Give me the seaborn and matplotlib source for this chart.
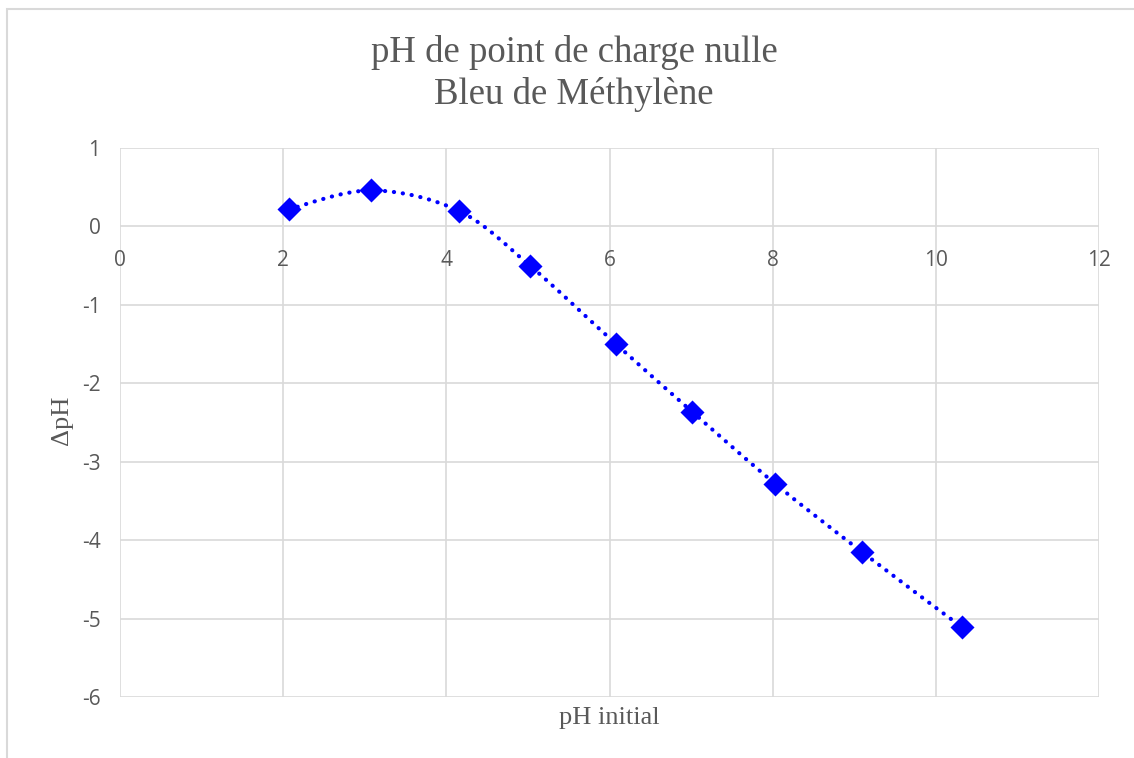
import matplotlib
matplotlib.use("Agg")
import matplotlib.pyplot as plt
from matplotlib.path import Path
from matplotlib.patches import PathPatch, Rectangle
import seaborn as sns
import pandas as pd
import numpy as np

# data
ph_initial = [2.07, 3.08, 4.15, 5.03, 6.08, 7.01, 8.03, 9.10, 10.32]
delta_ph = [0.22, 0.46, 0.20, -0.505, -1.50, -2.36, -3.28, -4.155, -5.11]

title_lines = ["pH de point de charge nulle", "Bleu de Méthylène"]
x_label = "pH initial"
y_label = "\u0394pH"
x_ticks = [0, 2, 4, 6, 8, 10, 12]
y_ticks = [1, 0, -1, -2, -3, -4, -5, -6]

df = pd.DataFrame({"x": ph_initial, "y": delta_ph})

BLUE = "#0000FF"
GRID = "#d9d9d9"
TXT = "#595959"


def smooth_path(xs, ys):
    # Excel-like smoothed line: cubic bezier through each point
    pts = np.column_stack([xs, ys])
    n = len(pts)
    verts = [pts[0]]
    codes = [Path.MOVETO]
    for i in range(n - 1):
        p0 = pts[i - 1] if i > 0 else pts[i]
        p1 = pts[i]
        p2 = pts[i + 1]
        p3 = pts[i + 2] if i + 2 < n else pts[i + 1]
        c1 = p1 + (p2 - p0) / 6.0
        c2 = p2 - (p3 - p1) / 6.0
        verts += [c1, c2, p2]
        codes += [Path.CURVE4] * 3
    return Path(verts, codes)


sns.set_style("white")
plt.rcParams["axes.unicode_minus"] = False
fig = plt.figure(figsize=(11.34, 7.58), dpi=100)
ax = fig.add_axes([120 / 1134, 1 - 697 / 758, (1099 - 120) / 1134, (697 - 148) / 758])

# outer chart border
fig.patches.append(Rectangle((7 / 1134, -0.05), 1.1, 1 - 9 / 758 + 0.05,
                             transform=fig.transFigure, fill=False,
                             edgecolor=GRID, linewidth=1.5))

ax.set_xlim(0, 12)
ax.set_ylim(-6, 1)
ax.set_xticks(x_ticks)
ax.set_yticks(y_ticks)
ax.grid(True, color=GRID, linewidth=1.2)
ax.set_axisbelow(True)
for s in ax.spines.values():
    s.set_visible(False)

# smoothed dotted line
patch = PathPatch(smooth_path(ph_initial, delta_ph), facecolor="none",
                  edgecolor=BLUE, linewidth=3.0, linestyle=(0, (0.05, 2.1)),
                  capstyle="round", zorder=2)
ax.add_patch(patch)

sns.scatterplot(data=df, x="x", y="y", marker="D", s=150, color=BLUE,
                edgecolor=BLUE, linewidth=0, ax=ax, zorder=3)

ax.set_xlabel("")
ax.set_ylabel("")

# x tick labels sit under the zero line
ax.tick_params(axis="both", length=0, labelcolor=TXT, labelsize=15)
ax.tick_params(axis="y", pad=14)
ax.set_xticklabels([])
for xv in x_ticks:
    ax.annotate(str(xv), xy=(xv, 0), xytext=(0, -17), textcoords="offset points",
                ha="center", va="top", color=TXT, fontsize=15,
                family="Open Sans", annotation_clip=False)
for lab in ax.get_yticklabels():
    lab.set_family("Open Sans")

serif = "Liberation Serif"
fig.text(574 / 1134, 1 - 52 / 758, title_lines[0], ha="center", va="center",
         fontsize=26.5, color=TXT, family=serif)
fig.text(574 / 1134, 1 - 95 / 758, title_lines[1], ha="center", va="center",
         fontsize=26.5, color=TXT, family=serif)
fig.text(609 / 1134, 1 - 718 / 758, x_label, ha="center", va="center",
         fontsize=19, color=TXT, family=serif)
fig.text(62 / 1134, 1 - 420 / 758, y_label, ha="center", va="center",
         fontsize=19, color=TXT, family=serif, rotation=90)

fig.savefig("out.png", dpi=100, facecolor="white")
